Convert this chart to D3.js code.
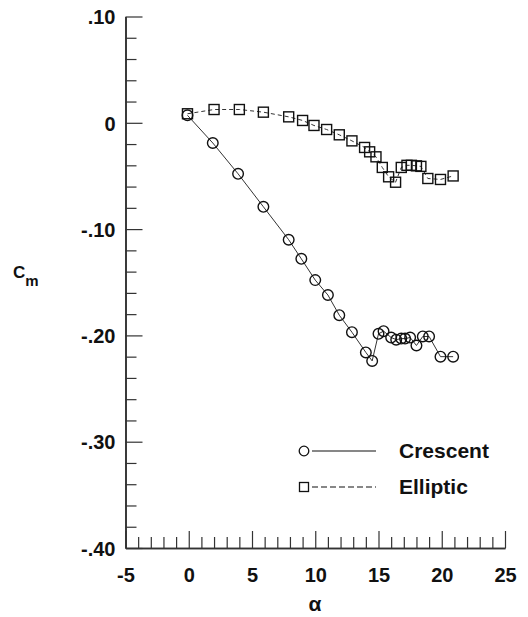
<!DOCTYPE html>
<html>
<head>
<meta charset="utf-8">
<script src="https://cdn.jsdelivr.net/npm/d3@7"></script>
<style>
  body { margin: 0; background: #fff; }
  svg { display: block; }
  text { font-family: "Liberation Sans", Arial, Helvetica, sans-serif; font-weight: bold; fill: #111; }
</style>
</head>
<body>
<svg id="chart" width="528" height="617"></svg>
<script>
// angle of attack (deg) and pitching moment
const crescentAlpha = [-0.1, 1.9, 3.9, 5.9, 7.9, 8.9, 10.0, 11.0, 11.9, 12.9, 14.0, 14.5, 15.0, 15.4, 16.0, 16.4, 16.8, 17.1, 17.5, 18.0, 18.5, 19.0, 19.9, 20.9];
const crescentCm    = [0.007, -0.019, -0.048, -0.079, -0.110, -0.128, -0.148, -0.162, -0.181, -0.197, -0.216, -0.224, -0.1985, -0.196, -0.202, -0.204, -0.203, -0.203, -0.202, -0.2095, -0.201, -0.201, -0.220, -0.220];

const ellipticAlpha = [-0.1, 2.0, 4.0, 5.9, 7.9, 9.0, 9.9, 10.9, 11.9, 12.9, 13.9, 14.3, 14.8, 15.3, 15.8, 16.35, 16.8, 17.25, 17.6, 18.0, 18.35, 18.9, 19.9, 20.9];
const ellipticCm    = [0.0085, 0.0125, 0.0125, 0.010, 0.0056, 0.0022, -0.0025, -0.0063, -0.0113, -0.017, -0.0232, -0.0273, -0.032, -0.042, -0.0508, -0.0559, -0.042, -0.040, -0.040, -0.0405, -0.041, -0.0524, -0.0533, -0.050];

const xMajor = [-5, 0, 5, 10, 15, 20, 25];
const xLabels = ["-5", "0", "5", "10", "15", "20", "25"];
const yMajor = [0.1, 0, -0.1, -0.2, -0.3, -0.4];
const yLabels = [".10", "0", "-.10", "-.20", "-.30", "-.40"];

const seriesNames = ["Crescent", "Elliptic"];

let svg = d3.select("#chart");

let x = d3.scaleLinear().domain([-5, 25]).range([125.5, 505]);
let y = d3.scaleLinear().domain([-0.4, 0.1]).range([548, 16.5]);

// minor ticks
let xMinor = d3.range(-5, 26, 1).filter(v => v % 5 !== 0);
let yMinor = d3.range(-40, 11, 2).map(v => v / 100).filter(v => Math.round(v * 100) % 10 !== 0);

// x axis (minor + major in separate groups)
svg.append("g").attr("transform", "translate(0,548)")
    .call(d3.axisBottom(x).tickValues(xMinor).tickSize(-11).tickSizeOuter(0).tickFormat(""));
let gx = svg.append("g").attr("transform", "translate(0,548)");
gx.call(d3.axisBottom(x).tickValues(xMajor).tickSize(-17).tickSizeOuter(0)
    .tickFormat((d, i) => xLabels[i]));
gx.selectAll("text").attr("y", 34).attr("dy", 0).style("font-size", "20px");

// y axis
svg.append("g").attr("transform", "translate(125.5,0)")
    .call(d3.axisLeft(y).tickValues(yMinor).tickSize(-11).tickSizeOuter(0).tickFormat(""));
let gy = svg.append("g").attr("transform", "translate(125.5,0)");
gy.call(d3.axisLeft(y).tickValues(yMajor).tickSize(-17).tickSizeOuter(0)
    .tickFormat((d, i) => yLabels[i]));
gy.selectAll("text").attr("x", -10).attr("dy", "0.36em").style("font-size", "20px");

svg.selectAll(".domain").attr("stroke", "#333").attr("stroke-width", 1.6);
svg.selectAll(".tick line").attr("stroke", "#333").attr("stroke-width", 1.2);

// axis titles
svg.append("text").attr("x", 315).attr("y", 611).attr("text-anchor", "middle")
    .style("font-size", "21px").text("α");
let cm = svg.append("text").attr("x", 13).attr("y", 278).style("font-size", "17px");
cm.append("tspan").text("C");
cm.append("tspan").attr("dy", 8).style("font-size", "15px").text("m");

// data
let crescent = crescentAlpha.map((a, i) => ({a: a, c: crescentCm[i]}));
let elliptic = ellipticAlpha.map((a, i) => ({a: a, c: ellipticCm[i]}));

let line = d3.line().x(d => x(d.a)).y(d => y(d.c));

svg.append("path").datum(elliptic).attr("d", line)
    .attr("fill", "none").attr("stroke", "#333").attr("stroke-width", 1)
    .attr("stroke-dasharray", "4,3");
svg.append("path").datum(crescent).attr("d", line)
    .attr("fill", "none").attr("stroke", "#333").attr("stroke-width", 1);

let s = 10;
svg.selectAll("rect.ell").data(elliptic).enter().append("rect")
    .attr("class", "ell")
    .attr("x", d => x(d.a) - s / 2).attr("y", d => y(d.c) - s / 2)
    .attr("width", s).attr("height", s)
    .attr("fill", "none").attr("stroke", "#111").attr("stroke-width", 1.4);

svg.selectAll("circle.cre").data(crescent).enter().append("circle")
    .attr("class", "cre")
    .attr("cx", d => x(d.a)).attr("cy", d => y(d.c)).attr("r", 5.3)
    .attr("fill", "none").attr("stroke", "#111").attr("stroke-width", 1.4);

// legend
let lg = svg.append("g");
lg.append("circle").attr("cx", 304).attr("cy", 451).attr("r", 4.8)
    .attr("fill", "none").attr("stroke", "#111").attr("stroke-width", 1.3);
lg.append("line").attr("x1", 312).attr("x2", 376).attr("y1", 451).attr("y2", 451)
    .attr("stroke", "#111").attr("stroke-width", 1.2);
lg.append("rect").attr("x", 299.5).attr("y", 482.5).attr("width", 9).attr("height", 9)
    .attr("fill", "none").attr("stroke", "#111").attr("stroke-width", 1.3);
lg.append("line").attr("x1", 312).attr("x2", 376).attr("y1", 487).attr("y2", 487)
    .attr("stroke", "#111").attr("stroke-width", 1.2).attr("stroke-dasharray", "6,3");
lg.selectAll("text").data(seriesNames).enter().append("text")
    .attr("x", 399).attr("y", (d, i) => 458 + i * 36)
    .style("font-size", "21px").text(d => d);
</script>
</body>
</html>
